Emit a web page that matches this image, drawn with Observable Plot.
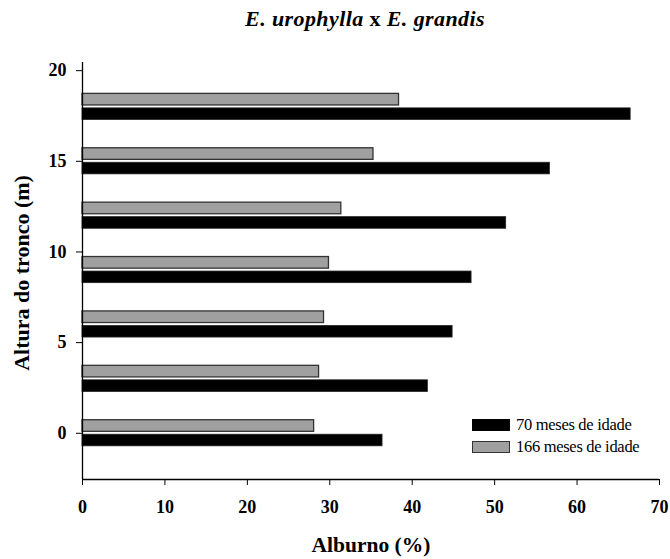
<!DOCTYPE html>
<html>
<head>
<meta charset="utf-8">
<script src="https://cdn.jsdelivr.net/npm/d3@7"></script>
<script src="https://cdn.jsdelivr.net/npm/@observablehq/plot@0.6"></script>
<style>
  body { margin: 0; background: #fff; }
  #wrap { position: relative; width: 670px; height: 559px; font-family: "Liberation Serif", "Times New Roman", serif; }
  #title { position: absolute; top: 6px; left: 0; width: 730px; text-align: center; font-size: 22px; letter-spacing: 0.4px; font-weight: bold; color: #000; }
  .legend { position: absolute; left: 472px; font-size: 16.5px; color: #000; letter-spacing: -0.3px; display: flex; align-items: center; line-height: 18px; }
  .sw { width: 38px; height: 12px; box-sizing: border-box; margin-right: 6px; }
</style>
</head>
<body>
<div id="wrap">
  <div id="title"><i>E. urophylla</i> x <i>E. grandis</i></div>
  <div id="chart"></div>
  <div class="legend" style="top:416px"><div class="sw" style="background:#000"></div>70 meses de idade</div>
  <div class="legend" style="top:438px"><div class="sw" style="background:#a0a0a0;border:1.5px solid #333"></div>166 meses de idade</div>
</div>
<script>
// Stem height (m) and sapwood share (%) at two stand ages
const alturas = [0, 3, 6, 9, 12, 15, 18];
const alburno70 = [36.4, 41.9, 44.9, 47.2, 51.4, 56.7, 66.5];
const alburno166 = [28.1, 28.7, 29.3, 29.9, 31.4, 35.3, 38.4];
const xTicks = [0, 10, 20, 30, 40, 50, 60, 70];
const yTicks = [0, 5, 10, 15, 20];

const half = 0.32;   // half bar thickness in metres
const shift = 0.4;   // offset of each series from its height
const rows70 = alturas.map((h, i) => ({h, v: alburno70[i]}));
const rows166 = alturas.map((h, i) => ({h, v: alburno166[i]}));
const yMin = -2.55, yMax = 20.45;

const font = {fontFamily: "Liberation Serif", fontWeight: "bold"};

const chart = Plot.plot({
  width: 670,
  height: 559,
  marginLeft: 82,
  marginRight: 11,
  marginTop: 62,
  marginBottom: 80,
  style: {fontFamily: "Liberation Serif", fontSize: "18px", fontWeight: "bold", color: "#000", background: "transparent", overflow: "visible"},
  x: {domain: [0, 70]},
  y: {domain: [yMin, yMax]},
  marks: [
    Plot.rect(rows166, {x1: 0, x2: "v", y1: d => d.h + shift - half, y2: d => d.h + shift + half, fill: "#a0a0a0", stroke: "#333", strokeWidth: 1.3}),
    Plot.rect(rows70, {x1: 0, x2: "v", y1: d => d.h - shift - half, y2: d => d.h - shift + half, fill: "#000", stroke: "#222", strokeWidth: 0.8}),
    Plot.ruleX([0], {stroke: "#000", strokeWidth: 1.3}),
    Plot.ruleY([yMin], {stroke: "#000", strokeWidth: 1.3}),
    Plot.axisX(xTicks, {ticks: xTicks, tickSize: 6, tickPadding: 15, label: null, fontSize: 18, ...font}),
    Plot.axisY(yTicks, {ticks: yTicks, tickSize: 6, tickPadding: 10, label: null, fontSize: 18, ...font}),
    Plot.text(["Alburno (%)"], {frameAnchor: "bottom", dy: 66, fontSize: 21.5, textAnchor: "middle", lineAnchor: "middle", ...font}),
    Plot.text(["Altura do tronco (m)"], {frameAnchor: "left", dx: -61, dy: 2, rotate: -90, fontSize: 22, textAnchor: "middle", lineAnchor: "middle", ...font})
  ]
});
document.getElementById("chart").appendChild(chart);
</script>
</body>
</html>
